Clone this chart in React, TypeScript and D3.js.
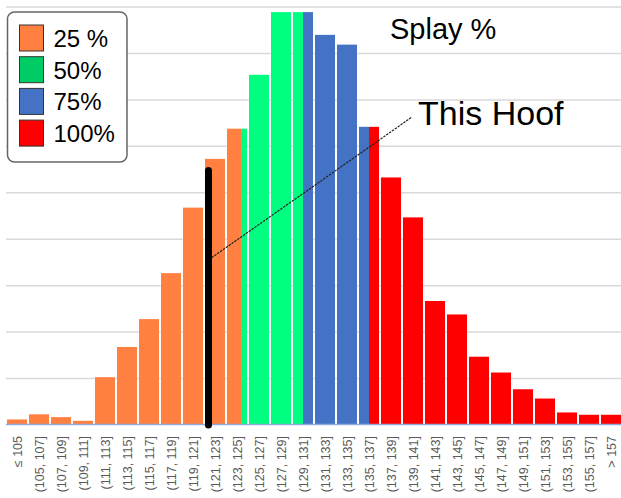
import * as d3 from 'd3'

// histogram bins (tick labels)
const binLabels = [
  '≤ 105', '(105, 107]', '(107, 109]', '(109, 111]', '(111, 113]', '(113, 115]',
  '(115, 117]', '(117, 119]', '(119, 121]', '(121, 123]', '(123, 125]', '(125, 127]',
  '(127, 129]', '(129, 131]', '(131, 133]', '(133, 135]', '(135, 137]', '(137, 139]',
  '(139, 141]', '(141, 143]', '(143, 145]', '(145, 147]', '(147, 149]', '(149, 151]',
  '(151, 153]', '(153, 155]', '(155, 157]', '> 157',
]
// lower edge of each bin (splay value)
const binLows = [
  -Infinity, 105, 107, 109, 111, 113, 115, 117, 119, 121, 123, 125, 127, 129,
  131, 133, 135, 137, 139, 141, 143, 145, 147, 149, 151, 153, 155, 157,
]
// bar heights (frequency, one gridline = 1)
const binValues = [
  0.12, 0.23, 0.17, 0.09, 1.03, 1.68, 2.28, 3.27, 4.68, 5.73, 6.38, 7.54, 8.89, 8.89,
  8.4, 8.19, 6.42, 5.33, 4.47, 2.67, 2.38, 1.47, 1.13, 0.77, 0.57, 0.27, 0.22, 0.22,
]
// quartile boundaries (splay value)
const quartiles = [124.4, 130.0, 136.0]
const barColors = ['#FF8040', '#00FF80', '#4472C4', '#FF0000']
const legendLabels = ['25 %', '50%', '75%', '100%']
const legendColors = ['#FF8040', '#00CC66', '#4472C4', '#FF0000']

const thisHoof = { value: 121.35, height: 5.48, leaderAt: 3.6 }

const width = 621
const height = 498
const font = '"Liberation Sans", Arial, sans-serif'

export default function App() {
  const x = d3
    .scaleBand<string>()
    .domain(binLabels)
    .range([6, 622])
    .paddingInner(0.09)
    .paddingOuter(0.045)
  const y = d3.scaleLinear().domain([0, 9]).range([425, 7])
  const bw = x.bandwidth()

  // x position of a splay value inside its bin
  const xOfValue = (v: number) => {
    const i = binLows.findIndex((lo, k) => v > lo && (k === binLows.length - 1 || v <= binLows[k + 1]))
    const lo = binLows[i]
    return (x(binLabels[i]) as number) + ((v - lo) / 2) * bw
  }

  // split each bar into coloured segments by quartile
  const segments: { x: number; w: number; y: number; h: number; color: string; key: string }[] = []
  binLabels.forEach((lab, i) => {
    const x0 = x(lab) as number
    const lo = binLows[i]
    const hi = i === binLows.length - 1 ? Infinity : binLows[i + 1]
    const cuts = quartiles.filter((q) => q > lo && q < hi)
    const edges = [x0, ...cuts.map((q) => x0 + ((q - lo) / 2) * bw), x0 + bw]
    for (let s = 0; s < edges.length - 1; s++) {
      const startVal = s === 0 ? lo : cuts[s - 1]
      const ci = quartiles.filter((q) => q <= startVal).length
      segments.push({
        x: edges[s],
        w: edges[s + 1] - edges[s],
        y: y(binValues[i]),
        h: y(0) - y(binValues[i]),
        color: barColors[ci],
        key: `${i}-${s}`,
      })
    }
  })

  const hx = xOfValue(thisHoof.value)
  const labelX = 418
  const labelY = 125

  return (
    <svg
      width={width}
      height={height}
      style={{ position: 'absolute', left: 0, top: 0, background: '#fff' }}
    >
      {/* gridlines */}
      <g stroke="#d9d9d9" strokeWidth={1.5}>
        {d3.range(1, 10).map((t) => (
          <line key={t} x1={6} x2={621} y1={y(t)} y2={y(t)} />
        ))}
      </g>

      {/* bars */}
      <g>
        {binLabels.map((lab, i) => (
          <rect
            key={'bg' + i}
            x={(x(lab) as number) - 0.5}
            y={y(binValues[i]) - 0.5}
            width={bw + 1}
            height={y(0) - y(binValues[i]) + 0.5}
            fill="#fff"
            opacity={0.6}
          />
        ))}
        {segments.map((s) => (
          <rect key={s.key} x={s.x} y={s.y} width={s.w} height={s.h} fill={s.color} />
        ))}
      </g>

      {/* axis line */}
      <line x1={6} x2={621} y1={y(0) - 0.5} y2={y(0) - 0.5} stroke="#8FAADC" strokeWidth={1.5} />

      {/* tick labels */}
      <g fontFamily={font} fontSize={12.5} fill="#595959">
        {binLabels.map((lab) => {
          const cx = (x(lab) as number) + bw / 2 + 4.5
          return (
            <text key={lab} textAnchor="end" transform={`translate(${cx},436) rotate(-90)`}>
              {lab}
            </text>
          )
        })}
      </g>

      {/* this hoof marker */}
      <line
        x1={hx}
        x2={hx}
        y1={y(0)}
        y2={y(thisHoof.height)}
        stroke="#000"
        strokeWidth={7}
        strokeLinecap="round"
      />
      <line
        x1={hx + 3}
        y1={y(thisHoof.leaderAt)}
        x2={labelX - 6}
        y2={labelY - 8}
        stroke="#222"
        strokeWidth={1.2}
        strokeDasharray="2.5 1"
      />
      <text x={labelX} y={labelY} fontFamily={font} fontSize={34} fill="#000">
        This Hoof
      </text>

      {/* title */}
      <text x={390} y={39} fontFamily={font} fontSize={29} fill="#000">
        Splay %
      </text>

      {/* legend */}
      <rect x={7.5} y={12} width={119.5} height={150} rx={7} fill="#fff" stroke="#666" strokeWidth={1.5} />
      {legendLabels.map((lab, i) => (
        <g key={lab} transform={`translate(19.5,${25 + i * 31.7})`}>
          <rect width={24} height={26} fill={legendColors[i]} stroke="#333" strokeWidth={1} />
          <text x={34} y={22} fontFamily={font} fontSize={24} fill="#000">
            {lab}
          </text>
        </g>
      ))}
    </svg>
  )
}
